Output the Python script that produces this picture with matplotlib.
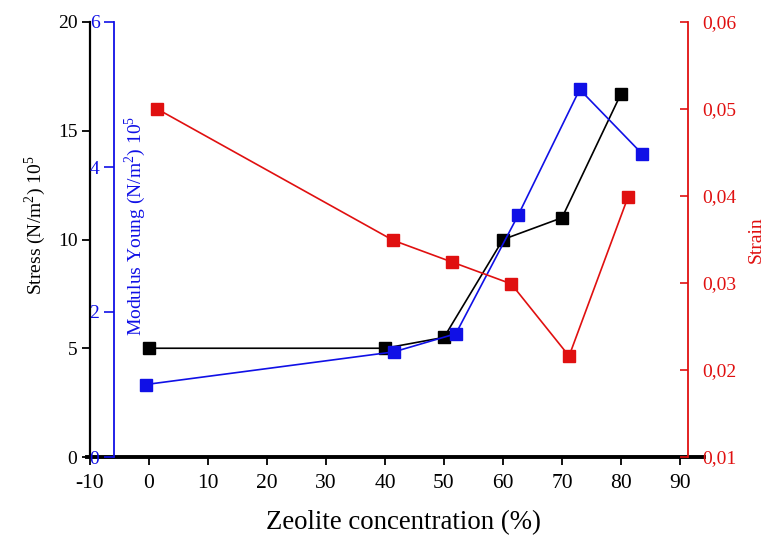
import matplotlib.pyplot as plt
from matplotlib.lines import Line2D
from matplotlib.ticker import FuncFormatter

plt.rcParams['font.family'] = ['Liberation Serif', 'DejaVu Serif']
plt.rcParams['mathtext.fontset'] = 'custom'
plt.rcParams['mathtext.rm'] = 'Liberation Serif'
plt.rcParams['axes.unicode_minus'] = False

# stress data (black, left axis)
stress_x = [0, 40, 50, 60, 70, 80]
stress_y = [5.0, 5.0, 5.5, 10.0, 11.0, 16.7]

# Young's modulus (blue, inner left axis)
young_x = [-0.5, 41.5, 52, 62.6, 73, 83.6]
young_y = [1.0, 1.45, 1.70, 3.34, 5.07, 4.18]

# strain (red, right axis)
strain_x = [1.4, 41.4, 51.4, 61.4, 71.2, 81.2]
strain_y = [0.050, 0.0349, 0.0324, 0.0299, 0.0216, 0.0399]

xticks = [-10, 0, 10, 20, 30, 40, 50, 60, 70, 80, 90]
blue = '#1010e6'
red = '#e01010'

W, H = 765, 535
fig = plt.figure(figsize=(W / 100, H / 100), dpi=100)
left, right, top, bottom = 90, 688, 22, 457
ax = fig.add_axes([left / W, 1 - bottom / H, (right - left) / W, (bottom - top) / H])

ax.plot(stress_x, stress_y, color='black', lw=1.2, marker='s', ms=8.5, zorder=3)
ax.set_xlim(-10, -10 + (right - left) / 5.9)
ax.set_ylim(0, 20)
ax.set_xticks(xticks)
ax.set_yticks([0, 5, 10, 15, 20])
for s in ['top', 'right']:
    ax.spines[s].set_visible(False)
ax.spines['bottom'].set_visible(False)
ax.spines['left'].set_linewidth(1.6)
ax.tick_params(axis='y', direction='out', length=6, width=1.3, labelsize=14, pad=3)
ax.tick_params(axis='x', direction='out', length=6, width=1.3, labelsize=15.5, pad=6)

# thick bottom axis line reaching past the right spine
ax.add_line(Line2D([-0.005, 1.027], [0, 0], transform=ax.transAxes, color='black',
                   lw=2.8, clip_on=False, zorder=5))

ax2 = ax.twinx()
ax2.plot(young_x, young_y, color=blue, lw=1.2, marker='s', ms=8.5, zorder=3)
ax2.set_ylim(0, 6)
ax2.set_yticks([0, 2, 4, 6])
ax2.yaxis.tick_left()
ax2.spines['left'].set_position(('axes', (114 - left) / (right - left)))
ax2.spines['left'].set_color(blue)
ax2.spines['left'].set_linewidth(1.3)
for s in ['top', 'right', 'bottom']:
    ax2.spines[s].set_visible(False)
ax2.tick_params(axis='y', colors=blue, direction='out', length=7, width=1.2,
                labelsize=14, pad=3.5)

ax3 = ax.twinx()
ax3.plot(strain_x, strain_y, color=red, lw=1.2, marker='s', ms=8.5, zorder=3)
ax3.set_ylim(0.01, 0.06)
ax3.set_yticks([0.01, 0.02, 0.03, 0.04, 0.05, 0.06])
ax3.yaxis.set_major_formatter(FuncFormatter(lambda v, p: f'{v:.2f}'.replace('.', ',')))
for s in ['top', 'left', 'bottom']:
    ax3.spines[s].set_visible(False)
ax3.spines['right'].set_color(red)
ax3.spines['right'].set_linewidth(1.3)
ax3.tick_params(axis='y', colors=red, direction='in', length=6, width=1.2,
                labelsize=14, pad=10.5)

fig.text(35 / W, 1 - 225 / H, 'Stress (N/m$^{2}$) 10$^{5}$', rotation=90,
         ha='center', va='center', fontsize=14)
fig.text(135 / W, 1 - 226 / H, 'Modulus Young (N/m$^{2}$) 10$^{5}$', rotation=90,
         ha='center', va='center', fontsize=14, color=blue)
fig.text(756 / W, 1 - 240 / H, 'Strain', rotation=90, ha='center', va='center',
         fontsize=14, color=red)
fig.text(403 / W, 1 - 523 / H, 'Zeolite concentration (%)', ha='center', va='center',
         fontsize=19.3)

fig.savefig('out.png', dpi=100)
